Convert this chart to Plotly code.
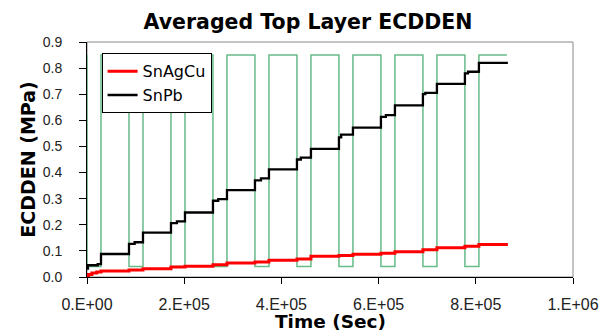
import plotly.graph_objects as go

# Thermal cycle load profile (drawn as a square wave, step-after)
load_t = [0, 0, 28800, 86400, 115200, 172800, 201600, 259200, 288000, 345600,
          374400, 432000, 460800, 518400, 547200, 604800, 633600, 691200,
          720000, 777600, 806400, 864000]
load_v = [0.85, 0.04, 0.85, 0.04, 0.85, 0.04, 0.85, 0.04, 0.85, 0.04,
          0.85, 0.04, 0.85, 0.04, 0.85, 0.04, 0.85, 0.04, 0.85, 0.04,
          0.85, 0.85]

# SnAgCu averaged ECDDEN (MPa)
sac_t = [0, 3000, 10000, 20000, 28800, 86400, 115200, 172800, 201600, 259200,
         288000, 345600, 374400, 432000, 460800, 518400, 547200, 604800,
         633600, 691200, 720000, 777600, 806400, 866000]
sac_v = [0.004, 0.010, 0.015, 0.019, 0.023, 0.027, 0.032, 0.038, 0.041, 0.047,
         0.054, 0.057, 0.064, 0.069, 0.079, 0.082, 0.087, 0.091,
         0.097, 0.104, 0.112, 0.118, 0.124, 0.124]

# SnPb averaged ECDDEN (MPa)
snpb_t = [0, 2000, 22000, 28800, 86400, 98000, 115200, 172800, 185000, 201600,
          259200, 270000, 288000, 345600, 358000, 374400, 432000, 440000,
          460800, 518400, 523000, 547200, 604800, 615000, 633600, 691200,
          696000, 720000, 777600, 784000, 806400, 866000]
snpb_v = [0.032, 0.045, 0.049, 0.088, 0.127, 0.133, 0.170, 0.206, 0.213, 0.247,
          0.292, 0.298, 0.333, 0.370, 0.378, 0.412, 0.450, 0.457,
          0.491, 0.535, 0.545, 0.572, 0.613, 0.620, 0.657, 0.700,
          0.705, 0.740, 0.780, 0.786, 0.820, 0.820]

x_ticks = [0, 200000, 400000, 600000, 800000, 1000000]
x_tick_text = ["0.E+00", "2.E+05", "4.E+05", "6.E+05", "8.E+05", "1.E+06"]
y_ticks = [0.0, 0.1, 0.2, 0.3, 0.4, 0.5, 0.6, 0.7, 0.8, 0.9]
y_tick_text = ["0.0", "0.1", "0.2", "0.3", "0.4", "0.5", "0.6", "0.7", "0.8", "0.9"]

SANS = "Liberation Sans, Arial, sans-serif"
BOLD = "DejaVu Sans, sans-serif"

fig = go.Figure()
fig.add_trace(go.Scatter(x=load_t, y=load_v, mode="lines", line_shape="hv",
                         line=dict(color="rgb(102,187,136)", width=1.5),
                         showlegend=False, hoverinfo="skip"))
fig.add_trace(go.Scatter(x=sac_t, y=sac_v, mode="lines", line_shape="hv",
                         name="SnAgCu", line=dict(color="#ff0000", width=3)))
fig.add_trace(go.Scatter(x=snpb_t, y=snpb_v, mode="lines", line_shape="hv",
                         name="SnPb", line=dict(color="#000000", width=2.3)))

fig.update_layout(
    width=610, height=332,
    margin=dict(l=87, r=37, t=42, b=55),
    paper_bgcolor="white", plot_bgcolor="white",
    title=dict(text="Averaged Top Layer ECDDEN", xref="container", x=0.505,
               xanchor="center", yref="container", y=0.935, yanchor="middle",
               font=dict(family=BOLD, size=20.5, color="black", weight="bold")),
    xaxis=dict(range=[0, 1000000], tickvals=x_ticks, ticktext=x_tick_text,
               showgrid=False, zeroline=False, showline=True, linecolor="black",
               linewidth=1, ticks="outside", ticklen=6, tickcolor="black",
               tickfont=dict(family=SANS, size=16, color="#222"),
               ticklabelstandoff=7),
    yaxis=dict(range=[0, 0.9], tickvals=y_ticks, ticktext=y_tick_text,
               showgrid=False, zeroline=False, showline=True, linecolor="black",
               linewidth=1, ticks="outside", ticklen=7, tickcolor="black",
               tickfont=dict(family=SANS, size=14, color="#222"),
               ticklabelstandoff=14),
    legend=dict(x=0.030, y=0.952, xanchor="left", yanchor="top",
                bgcolor="white", bordercolor="black", borderwidth=1,
                font=dict(family=BOLD, size=16, color="black"),
                itemwidth=30, tracegroupgap=4),
    shapes=[dict(type="rect", xref="paper", yref="paper", x0=0, x1=1, y0=0, y1=1,
                 line=dict(color="#888888", width=1), layer="below")],
    annotations=[
        dict(text="ECDDEN (MPa)", xref="paper", yref="paper", x=-0.123, y=0.5,
             xanchor="center", yanchor="middle", textangle=-90, showarrow=False,
             font=dict(family=BOLD, size=19, color="black", weight="bold")),
        dict(text="Time (Sec)", xref="paper", yref="paper", x=0.5, y=-0.189,
             xanchor="center", yanchor="middle", showarrow=False,
             font=dict(family=BOLD, size=18.5, color="black", weight="bold")),
    ],
)

fig.write_html("out.html")
